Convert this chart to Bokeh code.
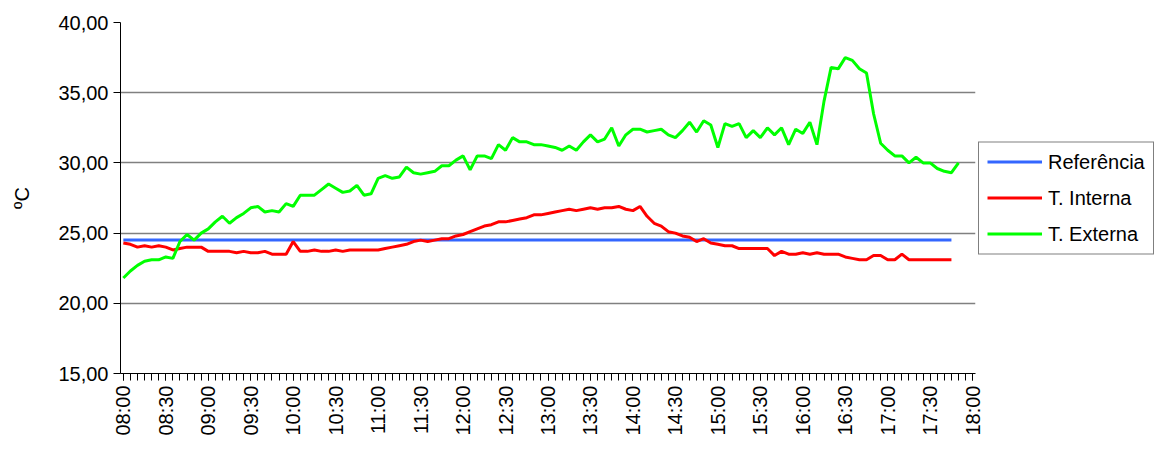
from math import pi
from bokeh.plotting import figure
from bokeh.models import FixedTicker, Legend, LegendItem
from bokeh.embed import file_html
from bokeh.resources import INLINE

# data, one reading every 5 minutes from 08:00
externa = [21.8, 22.3, 22.7, 23.0, 23.1, 23.1, 23.3, 23.2, 24.4, 24.9, 24.5, 25.0,
           25.3, 25.8, 26.2, 25.7, 26.1, 26.4, 26.8, 26.9, 26.5, 26.6, 26.5, 27.1,
           26.9, 27.7, 27.7, 27.7, 28.1, 28.5, 28.2, 27.9, 28.0, 28.4, 27.7, 27.8,
           28.9, 29.1, 28.9, 29.0, 29.7, 29.3, 29.2, 29.3, 29.4, 29.8, 29.8, 30.2,
           30.5, 29.5, 30.5, 30.5, 30.3, 31.3, 30.9, 31.8, 31.5, 31.5, 31.3, 31.3,
           31.2, 31.1, 30.9, 31.2, 30.9, 31.5, 32.0, 31.5, 31.7, 32.5, 31.2, 32.0,
           32.4, 32.4, 32.2, 32.3, 32.4, 32.0, 31.8, 32.3, 32.9, 32.2, 33.0, 32.7,
           31.1, 32.8, 32.6, 32.8, 31.8, 32.3, 31.8, 32.5, 32.0, 32.5, 31.3, 32.4,
           32.1, 32.9, 31.3, 34.4, 36.8, 36.7, 37.5, 37.3, 36.7, 36.4, 33.5, 31.4,
           30.9, 30.5, 30.5, 30.0, 30.4, 30.0, 30.0, 29.6, 29.4, 29.3, 30.0]
interna = [24.3, 24.2, 24.0, 24.1, 24.0, 24.1, 24.0, 23.8, 23.9, 24.0, 24.0, 24.0,
           23.7, 23.7, 23.7, 23.7, 23.6, 23.7, 23.6, 23.6, 23.7, 23.5, 23.5, 23.5,
           24.4, 23.7, 23.7, 23.8, 23.7, 23.7, 23.8, 23.7, 23.8, 23.8, 23.8, 23.8,
           23.8, 23.9, 24.0, 24.1, 24.2, 24.4, 24.5, 24.4, 24.5, 24.6, 24.6, 24.8,
           24.9, 25.1, 25.3, 25.5, 25.6, 25.8, 25.8, 25.9, 26.0, 26.1, 26.3, 26.3,
           26.4, 26.5, 26.6, 26.7, 26.6, 26.7, 26.8, 26.7, 26.8, 26.8, 26.9, 26.7,
           26.6, 26.9, 26.2, 25.7, 25.5, 25.1, 25.0, 24.8, 24.7, 24.4, 24.6, 24.3,
           24.2, 24.1, 24.1, 23.9, 23.9, 23.9, 23.9, 23.9, 23.4, 23.7, 23.5, 23.5,
           23.6, 23.5, 23.6, 23.5, 23.5, 23.5, 23.3, 23.2, 23.1, 23.1, 23.4, 23.4,
           23.1, 23.1, 23.5, 23.1, 23.1, 23.1, 23.1, 23.1, 23.1, 23.1]
referencia = 24.5
y_ticks = [15, 20, 25, 30, 35, 40]
x_labels = ["08:00", "08:30", "09:00", "09:30", "10:00", "10:30", "11:00", "11:30",
            "12:00", "12:30", "13:00", "13:30", "14:00", "14:30", "15:00", "15:30",
            "16:00", "16:30", "17:00", "17:30", "18:00"]

t_ext = [480 + 5 * i for i in range(len(externa))]
t_int = [480 + 5 * i for i in range(len(interna))]
t_ref = [t_int[0], t_int[-1]]
x_major = [480 + 30 * i for i in range(len(x_labels))]

p = figure(frame_width=855, frame_height=351, output_backend="svg", toolbar_location=None,
           x_range=(478, 1082), y_range=(15, 40),
           min_border_left=120, min_border_top=22, min_border_right=0, min_border_bottom=73)
p.outline_line_color = None
p.background_fill_color = "white"

r_ref = p.line(t_ref, [referencia, referencia], line_width=3, color="#3366ff")
r_int = p.line(t_int, interna, line_width=3, color="#ff0000")
r_ext = p.line(t_ext, externa, line_width=3, color="#00ff00")

font = "Liberation Sans"
p.xgrid.visible = False
p.ygrid.ticker = FixedTicker(ticks=y_ticks)
p.ygrid.grid_line_color = "#808080"
p.ygrid.grid_line_width = 1.5

p.yaxis.ticker = FixedTicker(ticks=y_ticks)
p.yaxis.major_label_overrides = {v: "%d,00" % v for v in y_ticks}
p.yaxis.axis_label = "ºC"
p.yaxis.axis_label_text_font_style = "normal"
p.yaxis.axis_label_text_font = font
p.yaxis.axis_label_text_font_size = "20px"
p.yaxis.axis_label_text_color = "black"
p.yaxis.axis_label_standoff = 22

p.xaxis.ticker = FixedTicker(ticks=x_major, minor_ticks=list(range(480, 1081, 5)))
p.xaxis.major_label_overrides = dict(zip(x_major, x_labels))
p.xaxis.major_label_orientation = pi / 2
p.xaxis.minor_tick_in = 0
p.xaxis.minor_tick_out = 7
p.xaxis.major_tick_out = 7

for ax in (p.xaxis, p.yaxis):
    ax.major_label_text_font = font
    ax.major_label_text_font_size = "20px"
    ax.major_label_text_color = "black"
    ax.axis_line_color = "black"
    ax.major_tick_line_color = "black"
    ax.minor_tick_line_color = "black"
    ax.major_tick_in = 0
p.yaxis.minor_tick_line_color = None
p.yaxis.major_tick_out = 7

legend = Legend(items=[LegendItem(label="Referência", renderers=[r_ref]),
                       LegendItem(label="T. Interna", renderers=[r_int]),
                       LegendItem(label="T. Externa", renderers=[r_ext])],
                location="center_left", border_line_color="black", border_line_width=1,
                label_text_font=font, label_text_font_size="20px", label_text_color="black",
                glyph_width=55, spacing=13, padding=8, margin=3, label_standoff=6)
p.add_layout(legend, "right")

open("out.html", "w").write(file_html(p, INLINE))
